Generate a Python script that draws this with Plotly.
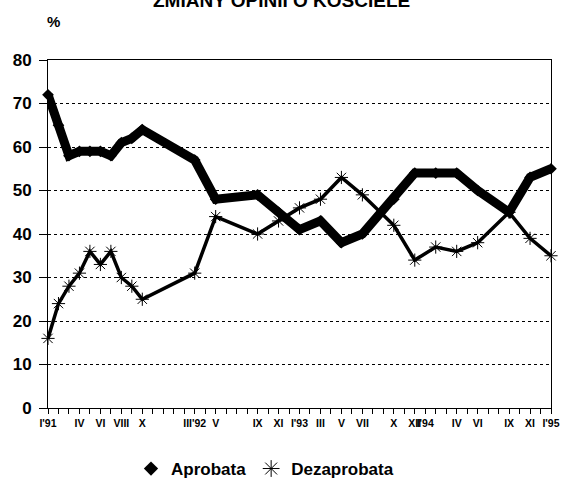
import plotly.graph_objects as go

MONTHS = ["I", "II", "III", "IV", "V", "VI", "VII", "VIII", "IX", "X", "XI", "XII"]

# survey dates (year, month)
survey_dates = [(1991, 1), (1991, 2), (1991, 3), (1991, 4), (1991, 5), (1991, 6),
                (1991, 7), (1991, 8), (1991, 9), (1991, 10), (1992, 3), (1992, 5),
                (1992, 9), (1992, 11), (1993, 1), (1993, 3), (1993, 5), (1993, 7),
                (1993, 10), (1993, 12), (1994, 2), (1994, 4), (1994, 6), (1994, 9),
                (1994, 11), (1995, 1)]
aprobata = [72, 65, 58, 59, 59, 59, 58, 61, 62, 64, 57, 48,
            49, 45, 41, 43, 38, 40, 48, 54, 54, 54, 50, 45, 53, 55]
dezaprobata = [16, 24, 28, 31, 36, 33, 36, 30, 28, 25, 31, 44,
               40, 43, 46, 48, 53, 49, 42, 34, 37, 36, 38, 45, 39, 35]

# labelled months on the category axis
label_dates = [(1991, 1), (1991, 4), (1991, 6), (1991, 8), (1991, 10), (1992, 3),
               (1992, 5), (1992, 9), (1992, 11), (1993, 1), (1993, 3), (1993, 5),
               (1993, 7), (1993, 10), (1993, 12), (1994, 1), (1994, 4), (1994, 6),
               (1994, 9), (1994, 11), (1995, 1)]


def idx(d):
    return (d[0] - 1991) * 12 + d[1] - 1


def label(d):
    s = MONTHS[d[1] - 1]
    if d[1] == 1 or d == (1992, 3):
        s += "'" + str(d[0])[2:]
    return s


x = [idx(d) for d in survey_dates]
font = dict(family="Liberation Sans, Arial, sans-serif", color="black", weight="bold")

fig = go.Figure()
fig.add_trace(go.Scatter(x=x, y=aprobata, name="Aprobata", mode="lines+markers",
                         line=dict(color="black", width=9),
                         marker=dict(symbol="diamond", size=9, color="black"),
                         cliponaxis=False, showlegend=False))
fig.add_trace(go.Scatter(x=x, y=dezaprobata, name="Dezaprobata", mode="lines+markers",
                         line=dict(color="black", width=3.5),
                         marker=dict(symbol="asterisk-open", size=11, color="black",
                                     line=dict(color="black", width=1)),
                         cliponaxis=False, showlegend=False))
# legend entries: marker only, as in the original
fig.add_trace(go.Scatter(x=[None], y=[None], name="Aprobata", mode="markers",
                         marker=dict(symbol="diamond", size=11, color="black")))
fig.add_trace(go.Scatter(x=[None], y=[None], name="Dezaprobata", mode="markers",
                         marker=dict(symbol="asterisk-open", size=14, color="black",
                                     line=dict(color="black", width=1))))

fig.update_layout(
    width=566, height=487,
    margin=dict(l=48, r=15, t=60, b=79),
    plot_bgcolor="white", paper_bgcolor="white",
    font=font,
    showlegend=True,
    legend=dict(orientation="h", x=0.165, xanchor="left",
                yref="container", y=0.037, yanchor="middle",
                font=dict(size=17, **font), itemwidth=30, tracegroupgap=0),
    xaxis=dict(range=[0, 48], tickmode="array", automargin=False,
               tickvals=[idx(d) for d in label_dates],
               ticktext=[label(d) for d in label_dates],
               ticks="outside", ticklen=5, tickcolor="black",
               tickfont=dict(size=10.5, **font), tickangle=0,
               showgrid=False, zeroline=False,
               showline=True, linecolor="black", linewidth=1, mirror=True,
               minor=dict(dtick=1, tick0=0, ticks="outside", ticklen=5,
                          tickcolor="black", showgrid=False)),
    yaxis=dict(range=[0, 80], dtick=10, tickfont=dict(size=17, **font),
               automargin=False, ticklabelstandoff=4,
               ticks="outside", ticklen=8, tickcolor="black",
               showgrid=True, gridcolor="black", griddash="dot", gridwidth=1,
               zeroline=False, showline=True, linecolor="black", linewidth=1,
               mirror=True),
    annotations=[
        dict(text="ZMIANY OPINII O KOŚCIELE", xref="paper", yref="paper",
             x=0.465, y=1.17, xanchor="center", yanchor="middle", showarrow=False,
             font=dict(size=19, **font)),
        dict(text="%", xref="paper", yref="paper", x=0.01, y=1.112,
             xanchor="center", yanchor="middle", showarrow=False,
             font=dict(size=15, **font)),
    ],
)

fig.write_html("out.html", config={"displayModeBar": False},
               post_script="document.body.style.margin = '0';")
